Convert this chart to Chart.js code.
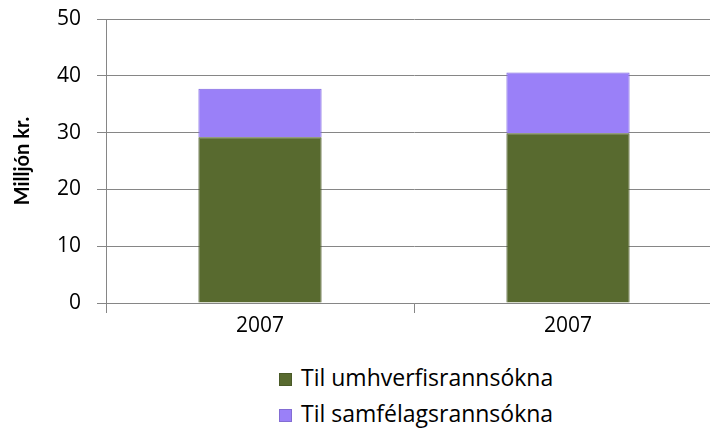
<!DOCTYPE html>
<html>
<head>
<meta charset="utf-8">
<script src="https://cdn.jsdelivr.net/npm/chart.js@4.4.0/dist/chart.umd.min.js"></script>
<style>
  html, body { margin: 0; padding: 0; background: #fff; overflow: hidden; }
  #wrap { position: relative; width: 722px; height: 345px; }
  #legend { position: absolute; left: 279px; top: 361px; font-family: "Open Sans", sans-serif; font-size: 23px; color: #000; }
  #legend div { height: 36px; line-height: 32px; white-space: nowrap; }
  #legend span.box { display: inline-block; width: 13px; height: 13px; margin-right: 9px; vertical-align: 0px; box-sizing: border-box; border: 1px solid rgba(0,0,0,0.15); }
</style>
</head>
<body>
<div id="wrap"><canvas id="myChart" width="722" height="345"></canvas></div>
<div id="legend"></div>
<script>
var categories = ["2007", "2007"];
var umhverfi = [29.2, 29.9];
var samfelag = [8.5, 10.7];
var seriesNames = ["Til umhverfisrannsókna", "Til samfélagsrannsókna"];
var yTicks = [0, 10, 20, 30, 40, 50];
var yTitle = "Milljón kr.";

var greenColor = "#586a2f";
var purpleColor = "#9a80f8";
var gridColor = "#868686";

// y axis title drawn by hand so it sits centred on the plot area
var yTitlePlugin = {
  id: "yTitle",
  afterDraw: function(chart) {
    var ctx = chart.ctx;
    var area = chart.chartArea;
    ctx.save();
    ctx.translate(23, (area.top + area.bottom) / 2);
    ctx.rotate(-Math.PI / 2);
    ctx.font = "bold 20px Lato";
    ctx.fillStyle = "#000";
    ctx.textAlign = "center";
    ctx.textBaseline = "middle";
    ctx.fillText(yTitle, 0, 0);
    ctx.restore();
  }
};

var myChart = new Chart("myChart", {
  type: "bar",
  data: {
    labels: categories,
    datasets: [{
      label: seriesNames[0],
      data: umhverfi,
      backgroundColor: greenColor,
      borderColor: "#46551f",
      borderWidth: 1,
      categoryPercentage: 1,
      barPercentage: 0.4
    }, {
      label: seriesNames[1],
      data: samfelag,
      backgroundColor: purpleColor,
      borderColor: "#7d64e0",
      borderWidth: 1,
      categoryPercentage: 1,
      barPercentage: 0.4
    }]
  },
  plugins: [yTitlePlugin],
  options: {
    responsive: false,
    animation: false,
    layout: { padding: { top: 19, left: 0, right: 0, bottom: 0 } },
    plugins: {
      legend: { display: false },
      tooltip: { enabled: false }
    },
    scales: {
      x: {
        stacked: true,
        grid: { drawOnChartArea: false, color: gridColor, tickLength: 10 },
        border: { color: gridColor },
        ticks: { color: "#000", font: { family: "Open Sans", size: 21 }, padding: 0 },
        afterFit: function(scale) { scale.height = 42; scale.paddingLeft = 0; scale.paddingRight = 0; }
      },
      y: {
        stacked: true,
        min: 0,
        max: 50,
        afterBuildTicks: function(scale) { scale.ticks = yTicks.map(function(v){ return { value: v }; }); },
        grid: { color: gridColor, tickLength: 9 },
        border: { color: gridColor },
        ticks: { color: "#000", font: { family: "Open Sans", size: 21 }, padding: 16 },
        afterFit: function(scale) { scale.width = 106; scale.paddingTop = 0; scale.paddingBottom = 0; }
      }
    }
  }
});

var colors = [greenColor, purpleColor];
var legendHtml = "";
for (var i = 0; i < seriesNames.length; i++) {
  legendHtml += '<div><span class="box" style="background:' + colors[i] + '"></span>' + seriesNames[i] + '</div>';
}
document.getElementById("legend").innerHTML = legendHtml;
</script>
</body>
</html>
